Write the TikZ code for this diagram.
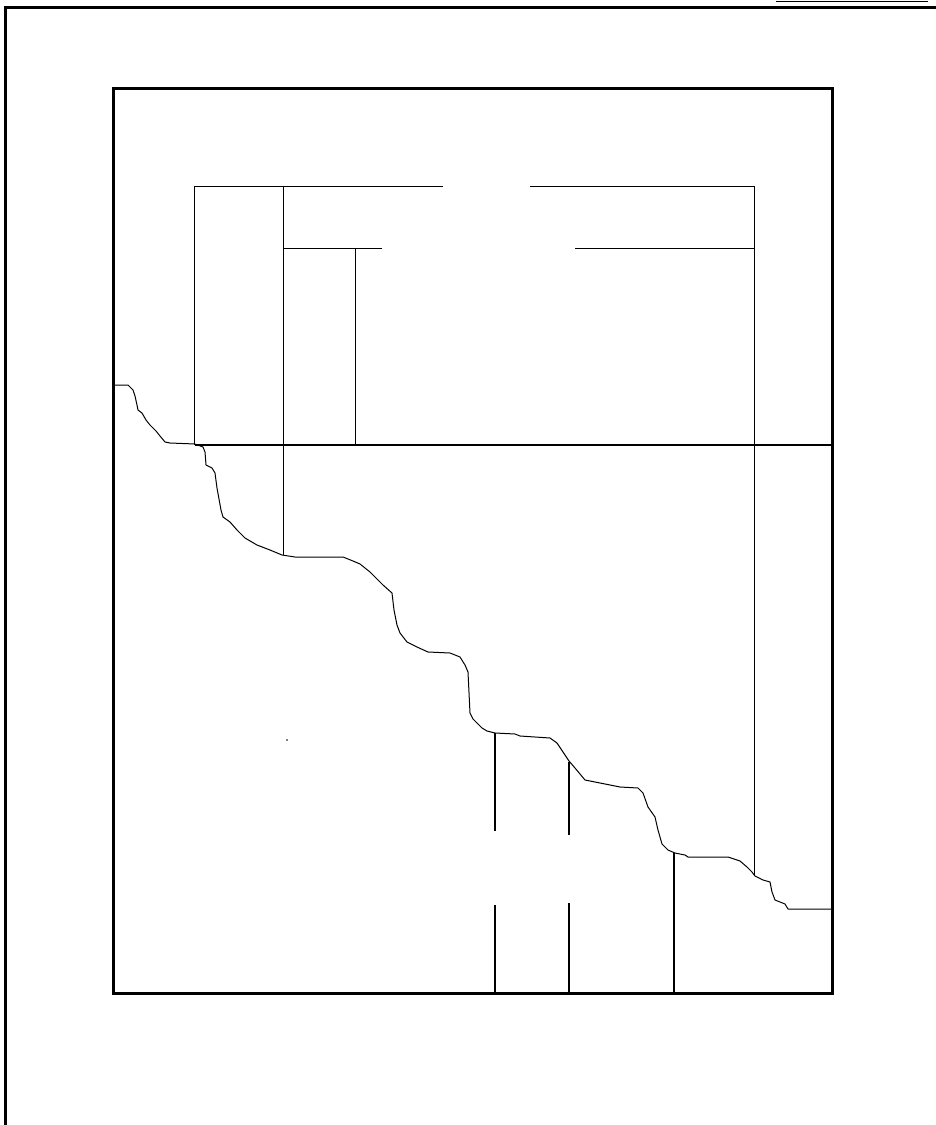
\documentclass[tikz,border=0pt]{standalone}
\begin{document}
\begin{tikzpicture}[x=1pt, y=-1pt]
        \tikzstyle{frame}=[line width=3pt]
        \tikzstyle{rule}=[line width=0.9pt]
        \tikzstyle{bar}=[line width=1.8pt]
        \tikzstyle{trace}=[line width=1pt, line join=round]
        \useasboundingbox (0,0) rectangle (936,1125);

        % sheet border and the short mark at the top
        \draw[frame] (5,1125) -- (5,7) -- (936,7);
        \draw[bar] (776,1.5) -- (928,1.5);

        % plot area and the thick level line
        \draw[frame] (113,88.5) rectangle (832.5,993.5);
        \draw[line width=2.5pt] (195,445) -- (832.5,445);

        % brackets above the level line
        \draw[rule] (194,445) -- (194,186.5) -- (443,186.5);
        \draw[rule] (530,186.5) -- (754.5,186.5);
        \draw[line width=1.4pt] (754.5,186.5) -- (754.5,876);
        \draw[rule] (283,555) -- (283,186.5);
        \draw[rule] (382,248.5) -- (283,248.5);
        \draw[rule] (355,248.5) -- (355,445);
        \draw[rule] (575,248.5) -- (754.5,248.5);

        % bars under the curve
        \draw[bar] (495,733) -- (495,831);
        \draw[bar] (495,905) -- (495,993);
        \draw[bar] (569,762) -- (569,835);
        \draw[bar] (569,903) -- (569,993);
        \draw[bar] (674,853) -- (674,993);
        \fill[gray] (286.3,739.3) rectangle (287.7,740.7);

        % stepped curve
        \draw[trace] plot coordinates {
          (113,385) (128,385) (133,390) (135,396) (137,405) (138,410) (142,413)
          (146,420) (150,425) (156,431) (160,436) (165,442) (170,443) (195,444)
          (203,447) (205,452) (206,465) (212,468) (215,473) (217,488) (221,510)
          (223,517) (230,522) (237,530) (245,538) (257,545) (270,550) (282,555)
          (295,557) (343,557) (353,561) (360,564) (370,572) (383,585) (392,593)
          (394,610) (397,625) (400,633) (407,642) (417,647) (428,652) (450,653)
          (460,657) (465,665) (468,672) (470,713) (473,719) (482,728) (487,731)
          (495,733) (515,734) (520,736) (550,738) (557,743) (563,752) (569,761)
          (575,768) (585,780) (600,783) (620,787) (638,788) (643,793) (648,807)
          (655,817) (658,830) (662,844) (668,850) (675,853) (685,855) (688,857)
          (728,857) (740,861) (747,867) (752,872) (755,876) (763,880) (770,882)
          (772,892) (775,900) (785,904) (788,909) (832.5,909)};
\end{tikzpicture}
\end{document}
